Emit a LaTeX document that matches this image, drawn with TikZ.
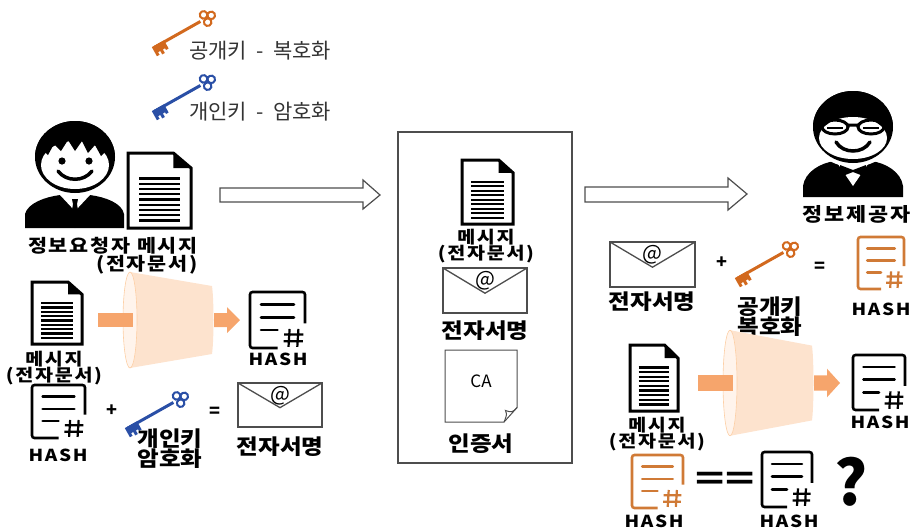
\documentclass[tikz,border=0pt]{standalone}
\usepackage{fontspec}
\setmainfont{Noto Sans CJK KR}
\newfontfamily\krwide{Noto Sans CJK KR}[LetterSpace=10, FakeStretch=1.15]
\newfontfamily\krbroad{Noto Sans CJK KR}[FakeStretch=1.12]

\definecolor{keyorange}{HTML}{D2691E}
\definecolor{keyblue}{HTML}{2A4FA6}
\definecolor{hashorange}{HTML}{D07A36}
\definecolor{barorange}{HTML}{F6A56C}
\definecolor{funnelfill}{HTML}{FDE3CE}
\definecolor{funnelrim}{HTML}{FFF4EC}
\definecolor{linegray}{HTML}{4D4D4D}

\tikzset{
  lbl/.style={font=\krbroad\fontsize{21}{20}\selectfont\bfseries, inner sep=0pt, align=center},
  wide/.style={font=\krwide\fontsize{#1}{16.5}\selectfont\bfseries, inner sep=0pt, align=center},
  wide/.default=17,
  leg/.style={font=\fontsize{21}{21}\selectfont, text=black!80, inner sep=0pt},
  hashlbl/.style={font=\krwide\fontsize{16.5}{17}\selectfont\bfseries, inner sep=0pt},
  op/.style={font=\fontsize{18}{18}\selectfont\bfseries, inner sep=0pt},
}

% page with folded corner: x, y, width, height
\newcommand\docicon[4]{%
  \begin{scope}[shift={(#1,#2)}]
    \fill[white] (0,0) rectangle (#3,#4);
    \draw[line width=3pt] (0,0) -- ({#3*0.72},0) -- (#3,{#4*0.2}) -- (#3,#4) -- (0,#4) -- cycle;
    \fill ({#3*0.72},0) -- ({#3*0.72},{#4*0.2}) -- (#3,{#4*0.2}) -- cycle;
    \foreach \k in {0,...,8}
      \draw[line width=2.2pt] ({#3*0.18},{#4*(0.34+0.07*\k)}) -- ({#3*0.82},{#4*(0.34+0.07*\k)});
  \end{scope}}

% hash sheet: x, y, width, height, colour
\newcommand\hashicon[5]{%
  \begin{scope}[shift={(#1,#2)}, color=#5, line width=2.6pt]
    \draw[rounded corners=2.5pt] ({#3*0.5},#4) -- (0,#4) -- (0,0) -- (#3,0) -- (#3,{#4*0.56});
    \draw[line cap=round] ({#3*0.2},{#4*0.22}) -- ({#3*0.8},{#4*0.22})
      ({#3*0.2},{#4*0.45}) -- ({#3*0.8},{#4*0.45})
      ({#3*0.2},{#4*0.68}) -- ({#3*0.5},{#4*0.68});
    \draw[line width=2.2pt] ({#3*0.72},{#4*0.66}) -- ({#3*0.7},{#4*0.98})
      ({#3*0.88},{#4*0.66}) -- ({#3*0.86},{#4*0.98})
      ({#3*0.62},{#4*0.76}) -- ({#3*0.97},{#4*0.76})
      ({#3*0.61},{#4*0.88}) -- ({#3*0.96},{#4*0.88});
  \end{scope}}

% envelope: name, x, y, width, height
\newcommand\envicon[5]{%
  \begin{scope}[shift={(#2,#3)}, linegray, line width=1.3pt]
    \draw (0,0) rectangle (#4,#5);
    \draw (0,0) -- ({#4/2},{#5*0.56}) -- (#4,0);
    \node[black, inner sep=0pt, font=\fontsize{21}{21}\selectfont] (#1) at ({#4/2},{#5*0.28}) {@};
  \end{scope}}

% certificate sheet with curled corner: x, y, width, height
\newcommand\caicon[4]{%
  \begin{scope}[shift={(#1,#2)}, linegray, line width=1pt]
    \draw (0,0) -- (#3,0) -- (#3,{#4*0.8}) -- ({#3*0.82},#4) -- (0,#4) -- cycle;
    \draw ({#3*0.82},#4) .. controls ({#3*0.86},{#4*0.9}) .. ({#3*0.84},{#4*0.84})
      .. controls ({#3*0.93},{#4*0.87}) .. (#3,{#4*0.8});
  \end{scope}}

% key, bow centre at x, y: x, y, colour
\newcommand\keyicon[3]{%
  \begin{scope}[shift={(#1,#2)}, x={(-0.87pt,-0.49pt)}, y={(0.49pt,-0.87pt)}, color=#3]
    \draw[line width=3pt] (3,0) -- (56,0);
    \draw[line width=2pt] (-3,-4.2) circle (3.8) (-3,4.2) circle (3.8) (-9.5,0) circle (3.8);
    \fill (44,-1.5) -- (58,-1.5) -- (58,9) -- (55,9) -- (55,6) -- (52.5,6) -- (52.5,10)
      -- (49.5,10) -- (49.5,6) -- (47,6) -- (47,8) -- (44,8) -- cycle;
  \end{scope}}

% hash function: centre of the mouth, x scale, y scale
\newcommand\funnel[4]{%
  \begin{scope}[shift={(#1,#2)}, xscale=#3, yscale=#4]
    \fill[funnelfill] (0,-48) -- (82,-34) .. controls (84,-20) and (84,20) .. (82,34) -- (0,48) -- cycle;
    \fill[funnelrim, draw=funnelfill!80!orange, line width=0.6pt] (0,0) ellipse (7 and 48);
    \fill[barorange] (-32,-7) rectangle (3,7);
    \fill[barorange] (84,-7) -- (97,-7) -- (97,-13) -- (110,0) -- (97,13) -- (97,7) -- (84,7) -- cycle;
  \end{scope}}

\begin{document}
\begin{tikzpicture}[x=1pt,y=-1pt]
\useasboundingbox (0,0) rectangle (915,531);

% legend
\keyicon{203}{20}{keyorange}
\node[leg, anchor=west] (legpub) at (189,51) {공개키~~-~~복호화};
\keyicon{203}{84}{keyblue}
\node[leg, anchor=west] (legpriv) at (189,112) {개인키~~-~~암호화};

% requester
\fill (25,228) -- (25,214) .. controls (28,203) and (45,197) .. (60,195) -- (90,195)
  .. controls (105,197) and (122,203) .. (124,214) -- (124,228) -- cycle;
\fill[white] (60,195) -- (75,211) -- (90,195) -- cycle;
\fill (72,199) -- (78,199) -- (77,204) -- (80,222) -- (75,228) -- (70,222) -- (73,204) -- cycle;
\fill[white] (75,157) ellipse (44 and 40);
\fill (75,157) ellipse (40 and 36);
\begin{scope}
  \clip (75,157) ellipse (40 and 36);
  \fill[white] (75,165) ellipse (34 and 24);
  \fill (35,115) -- (115,115) -- (115,160) -- (107,150) -- (101,156) -- (95,145) -- (88,153)
    -- (82,141) -- (75,151) -- (68,140) -- (61,151) -- (54,144) -- (48,155) -- (42,149)
    -- (35,160) -- cycle;
\end{scope}
\fill (62,161) circle (3.6) (89,161) circle (3.6);
\draw[line width=3.5pt, line cap=round] (58,171) .. controls (66,182) and (84,182) .. (92,171);
\docicon{128}{153}{63}{75}
\node[wide=18, align=right, anchor=north east] (reqname) at (198,237) {정보요청자 메시지\\(전자문서)};

% hashing the message
\docicon{32}{282}{50}{62}
\node[wide] (msg1) at (54,368) {메시지\\(전자문서)};
\funnel{130}{320}{1}{1}
\hashicon{250}{292}{55}{56}{black}
\node[hashlbl] (hash1) at (278,359) {HASH};

% signing with the private key
\hashicon{32}{385}{53}{53}{black}
\node[hashlbl] (hash2) at (58,455) {HASH};
\node[op] (plus1) at (112,411) {+};
\keyicon{176}{401}{keyblue}
\node[lbl] (privkey) at (170,449) {개인키\\암호화};
\node[op] (eq1) at (215,412) {=};
\envicon{at1}{238}{383}{84}{44}
\node[lbl] (sig1) at (280,447) {전자서명};

% sending
\draw[linegray, fill=white, line width=1.2pt] (220,188) -- (363,188) -- (363,180) -- (380,195)
  -- (363,209) -- (363,202) -- (220,202) -- cycle;
\draw[linegray, line width=1.2pt] (398,132) rectangle (572,463);
\docicon{462}{160}{51}{64}
\node[wide] (msg2) at (486,246) {메시지\\(전자문서)};
\envicon{at2}{443}{268}{84}{45}
\node[lbl] (sig2) at (485,331) {전자서명};
\caicon{445}{350}{72}{72}
\node[font=\fontsize{17}{17}\selectfont, inner sep=0pt] (ca) at (481,381) {CA};
\node[lbl] (cert) at (481,444) {인증서};
\draw[linegray, fill=white, line width=1.2pt] (585,187) -- (728,187) -- (728,178) -- (747,194)
  -- (728,210) -- (728,202) -- (585,202) -- cycle;

% provider
\fill (803,197) -- (803,186) .. controls (805,172) and (820,163) .. (835,161) -- (871,161)
  .. controls (886,163) and (901,172) .. (903,186) -- (903,197) -- cycle;
\fill[white] (836,161) -- (853,186) -- (870,161) -- cycle;
\fill[white] (853,127) ellipse (44 and 40);
\fill (853,127) ellipse (40 and 36);
\begin{scope}
  \clip (853,127) ellipse (40 and 36);
  \fill[white] (853,138) ellipse (34 and 21);
  \fill (810,85) -- (896,85) -- (896,128) .. controls (880,112) and (826,112) .. (810,128) -- cycle;
\end{scope}
\draw[line width=3pt] (835,127) ellipse (13 and 7) (871,127) ellipse (13 and 7) (848,125) -- (858,125);
\draw[line width=2.4pt] (827,128) -- (843,128) (863,128) -- (879,128);
\draw[line width=3.5pt, line cap=round] (836,142) .. controls (843,154) and (863,154) .. (870,142);
\fill (840,165) -- (853,170) -- (866,165) -- (866,177) -- (853,172) -- (840,177) -- cycle;
\node[wide=19] (provname) at (857,214) {정보제공자};

% checking with the public key
\envicon{at3}{610}{242}{85}{45}
\node[lbl] (sig3) at (652,302) {전자서명};
\node[op] (plus2) at (722,263) {+};
\keyicon{786}{251}{keyorange}
\node[lbl] (pubkey) at (770,317) {공개키\\복호화};
\node[op] (eq2) at (820,267) {=};
\hashicon{858}{237}{46}{52}{hashorange}
\node[hashlbl] (hash3) at (881,309) {HASH};

\docicon{630}{345}{48}{66}
\node[wide] (msg3) at (657,434) {메시지\\(전자문서)};
\funnel{730}{383}{1}{1.1}
\hashicon{853}{355}{52}{55}{black}
\node[hashlbl] (hash4) at (880,422) {HASH};

% compare
\hashicon{632}{455}{51}{53}{hashorange}
\node[hashlbl] (hash5) at (654,521) {HASH};
\node[font=\fontsize{30}{30}\selectfont\bfseries, xscale=1.6, inner sep=0pt] (same) at (725,481) {==};
\hashicon{762}{452}{50}{55}{black}
\node[hashlbl] (hash6) at (789,521) {HASH};
\node[font=\fontsize{62}{62}\selectfont\bfseries, inner sep=0pt] (ask) at (851,482) {?};
\end{tikzpicture}
\end{document}
